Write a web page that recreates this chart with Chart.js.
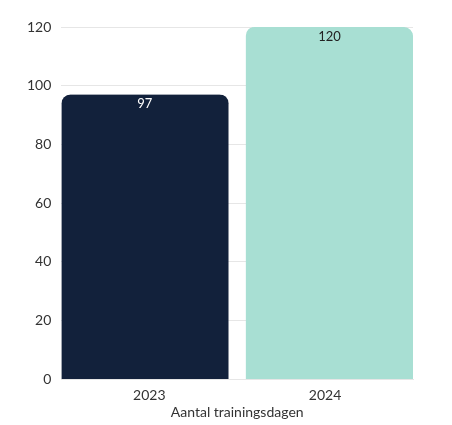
<!DOCTYPE html>
<html>
<head>
<meta charset="utf-8">
<script src="https://cdn.jsdelivr.net/npm/chart.js@4/dist/chart.umd.min.js"></script>
<style>
  html, body { margin: 0; padding: 0; background: #fff; }
  #wrap { width: 452px; height: 425px; }
</style>
</head>
<body>
<div id="wrap"><canvas id="trainingChart"></canvas></div>
<script>
// trainingsdagen per jaar
const categories = ['2023', '2024'];
const values = [97, 120];
const barColors = ['#12213b', '#a8dfd3'];
const labelColors = ['#ffffff', '#222222'];
const yTicks = [0, 20, 40, 60, 80, 100, 120];

// simple value labels just inside the top of each bar
const valueLabels = {
  id: 'valueLabels',
  afterDatasetsDraw(chart) {
    const { ctx } = chart;
    const meta = chart.getDatasetMeta(0);
    ctx.save();
    ctx.font = '13px Lato, sans-serif';
    ctx.textAlign = 'center';
    ctx.textBaseline = 'top';
    meta.data.forEach((bar, i) => {
      // shift label to the centre of the visible (non-border) part
      const shift = i === 0 ? -4.5 : 4.5;
      ctx.fillStyle = labelColors[i];
      ctx.fillText(values[i], bar.x + shift, bar.y + 3);
    });
    ctx.restore();
  }
};

document.addEventListener('DOMContentLoaded', () => {
  const ctx = document.getElementById('trainingChart');
  new Chart(ctx, {
    type: 'bar',
    data: {
      labels: categories,
      datasets: [
        {
          data: values,
          backgroundColor: barColors,
          // transparent inner-side border gives the gap in the middle while bars stay flush with the edges
          borderColor: 'rgba(0,0,0,0)',
          borderWidth: (c) => c.dataIndex === 0
            ? { top: 0, right: 9, bottom: 0, left: 0 }
            : { top: 0, right: 0, bottom: 0, left: 9 },
          borderRadius: (c) => c.dataIndex === 0
            ? { topLeft: 9, topRight: 18, bottomLeft: 0, bottomRight: 0 }
            : { topLeft: 18, topRight: 9, bottomLeft: 0, bottomRight: 0 },
          borderSkipped: false,
          barPercentage: 1,
          categoryPercentage: 1,
        },
      ],
    },
    options: {
      responsive: true,
      maintainAspectRatio: false,
      animation: false,
      layout: { padding: { left: 17, right: 39, top: 27, bottom: 0 } },
      plugins: {
        legend: { display: false },
        tooltip: { enabled: false },
      },
      scales: {
        x: {
          grid: { display: false },
          border: { color: '#e6e6e6' },
          ticks: { color: '#333', font: { family: 'Lato', size: 14 }, padding: 0 },
          title: {
            display: true,
            text: 'Aantal trainingsdagen',
            color: '#333',
            font: { family: 'Lato', size: 14 },
            padding: { top: 0 },
          },
        },
        y: {
          min: 0,
          max: 120,
          afterBuildTicks: (axis) => { axis.ticks = yTicks.map(v => ({ value: v })); },
          grid: { color: '#e6e6e6', drawTicks: false },
          border: { display: false },
          ticks: { color: '#333', font: { family: 'Lato', size: 14 }, padding: 10 },
        },
      },
    },
    plugins: [valueLabels],
  });
});
</script>
</body>
</html>
